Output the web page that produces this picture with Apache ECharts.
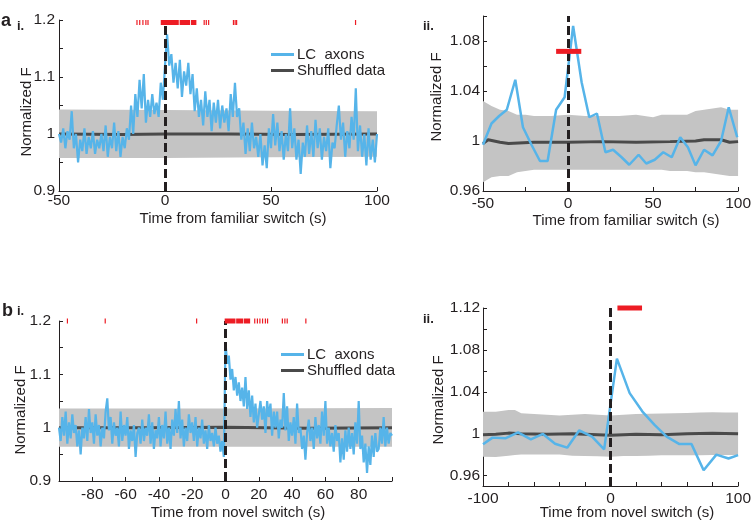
<!doctype html>
<html lang="en">
<head>
<meta charset="utf-8">
<title>LC axons at familiar / novel switch</title>
<script src="https://cdn.jsdelivr.net/npm/echarts@6/dist/echarts.min.js"></script>
<style>
  html, body { margin: 0; padding: 0; background: #fff; }
  #chart { width: 754px; height: 522px; }
</style>
</head>
<body>
<div id="chart"></div>
<script>
// ---- a.i  familiar switch, raw trace (1 s samples from -50 s)
const famStart = -50;
const famStep = 1;
const famTrace = [
  1.00, 0.985, 1.01, 0.975, 1.005, 0.99, 1.04, 0.975, 1.0, 0.95,
  0.99, 0.97, 1.01, 0.965, 0.995, 0.975, 1.005, 0.965, 0.99, 0.975,
  1.0, 0.97, 1.015, 0.96, 0.995, 0.975, 1.02, 0.97, 1.005, 0.96,
  0.995, 0.975, 1.01, 0.99, 1.05, 1.0, 1.07, 1.03, 1.095, 1.045,
  1.105, 1.02, 1.06, 1.03, 1.07, 1.035, 1.055, 1.03, 1.09, 1.06,
  1.12, 1.175, 1.12, 1.14, 1.09, 1.125, 1.08, 1.13, 1.065, 1.11,
  1.085, 1.125, 1.07, 1.105, 1.04, 1.08, 1.03, 1.06, 1.015, 1.075,
  1.03, 1.06, 1.005, 1.055, 1.02, 1.06, 1.01, 1.05, 1.02, 1.045,
  1.005, 1.07, 1.03, 1.09, 1.03, 1.045, 0.99, 1.02, 0.965, 1.01,
  0.97, 1.02, 0.975, 0.995, 0.96, 1.0, 0.945, 0.98, 0.94, 1.01,
  0.975, 1.035, 0.98, 1.02, 0.97, 1.005, 0.955, 1.0, 0.97, 1.045,
  0.975, 1.01, 0.955, 0.99, 0.93, 0.985, 0.96, 1.015, 0.965, 1.005,
  0.96, 1.025, 0.975, 1.01, 0.955, 0.995, 0.97, 1.01, 0.94, 0.985,
  0.975, 1.015, 1.05, 0.99, 1.02, 0.96, 1.005, 0.975, 1.03, 0.99,
  1.08, 0.97, 1.015, 0.96, 1.0, 0.945, 1.01, 0.955, 0.99, 0.95,
  1.0
];
const famBandT = [-50, 0, 50, 100];
const famBandLo = [0.958, 0.958, 0.959, 0.96];
const famBandHi = [1.043, 1.042, 1.041, 1.04];
const famShufT = [-50, -20, 0, 30, 60, 100];
const famShufV = [1.0, 0.999, 1.0, 1.0, 0.999, 1.0];
const famEvents = [
  [-13.5, -13.3], [-12.2, -12.0], [-10.7, -10.4], [-9.3, -9.1], [-8.3, -8.1],
  [-2.0, 6.5], [6.9, 11.8], [12.2, 14.8],
  [18.2, 18.4], [19.2, 19.4], [20.3, 20.6],
  [32.0, 32.3], [32.8, 33.1], [33.5, 33.8], [89.6, 89.9]
];

// ---- a.ii  familiar switch, binned
const famBinT = [-50, -45, -40.5, -36, -31, -26.5, -21.5, -16.5, -12, -7, -2, 3, 8, 12.5, 17, 22,
  26.5, 31.5, 36, 41.5, 46, 51, 56, 61, 66, 70.5, 75, 80, 85, 90, 94.5, 99.5];
const famBinV = [0.997, 1.014, 1.02, 1.025, 1.049, 1.011, 0.997, 0.984, 0.984, 1.025, 1.035, 1.092, 1.047, 1.019, 1.022, 0.991,
  0.993, 0.987, 0.981, 0.989, 0.982, 0.985, 0.991, 0.987, 1.003, 0.995, 0.9805, 0.993, 0.9885, 1.0, 1.027, 1.003];
const famBinBandT = [-50, -45, -40, -35, -30, -25, -20, -10, 0, 10, 20, 30, 40, 50, 55, 60, 70, 75, 80, 90, 95, 100];
const famBinBandHi = [1.032, 1.028, 1.025, 1.024, 1.021, 1.021, 1.02, 1.02, 1.021, 1.02, 1.02, 1.02, 1.021, 1.019, 1.021, 1.021, 1.021, 1.024, 1.025, 1.027, 1.025, 1.025];
const famBinBandLo = [0.967, 0.971, 0.972, 0.972, 0.975, 0.976, 0.977, 0.977, 0.977, 0.977, 0.977, 0.977, 0.977, 0.977, 0.977, 0.976, 0.976, 0.975, 0.975, 0.973, 0.972, 0.972];
const famBinShufT = [-50, -47, -40, -35, -20, 0, 20, 40, 60, 75, 80, 90, 95, 100];
const famBinShufV = [0.998, 1.001, 0.999, 0.998, 0.999, 0.999, 0.9995, 0.999, 0.9995, 1.0, 1.001, 1.001, 0.999, 0.9995];
const famSigBar = [[-7, 7.8, 1.0717]];

// ---- b.i  novel switch, raw trace (1 s samples from -100 s)
const novStart = -100;
const novStep = 1;
const novTrace = [
  1.00, 0.975, 1.02, 0.985, 1.03, 0.97, 1.01, 0.98, 1.025, 0.99,
  1.005, 0.965, 0.995, 0.95, 1.0, 0.98, 1.02, 0.975, 1.035, 0.99,
  1.01, 0.97, 1.025, 0.985, 1.005, 0.965, 1.0, 0.98, 1.03, 1.055,
  0.995, 1.02, 0.97, 1.01, 0.985, 1.0, 0.965, 1.03, 0.975, 1.005,
  0.985, 1.02, 0.96, 0.995, 0.975, 1.005, 0.945, 0.99, 1.0, 0.97,
  1.015, 0.975, 1.0, 0.985, 1.025, 0.97, 1.01, 0.96, 0.995, 0.98,
  1.02, 0.965, 1.005, 0.98, 1.03, 0.97, 1.0, 0.96, 1.015, 0.985,
  1.035, 0.99, 1.05, 0.98, 1.015, 0.965, 1.0, 0.975, 1.025, 0.99,
  1.01, 0.975, 1.02, 0.965, 1.0, 0.98, 1.015, 0.97, 0.995, 0.96,
  1.005, 0.975, 0.99, 0.965, 1.0, 0.97, 0.985, 0.955, 0.975, 0.945,
  1.16, 1.12, 1.135, 1.09, 1.11, 1.07, 1.095, 1.06, 1.085, 1.05,
  1.075, 1.04, 1.095, 1.035, 1.07, 1.02, 1.06, 1.01, 1.045, 1.0,
  1.0, 1.05, 1.015, 1.04, 0.99, 1.05, 1.02, 1.045, 0.985, 1.03,
  1.0, 1.03, 0.98, 1.015, 1.0, 1.065, 0.995, 1.04, 0.975, 1.01,
  0.985, 1.02, 0.97, 1.045, 0.99, 1.0, 0.96, 0.985, 0.94, 0.99,
  1.015, 0.975, 1.0, 0.96, 1.02, 0.98, 1.005, 0.97, 1.03, 0.985,
  1.05, 0.97, 1.0, 0.965, 0.99, 0.955, 1.005, 0.975, 0.99, 0.935,
  0.98, 0.94, 0.995, 0.955, 1.0, 0.96, 0.99, 0.95, 1.01, 0.97,
  1.05, 0.96, 0.985, 0.935, 0.97, 0.915, 0.965, 0.93, 0.985, 0.945,
  0.99, 0.955, 0.96, 1.0, 0.97, 1.02, 0.965, 1.0, 0.97, 0.99,
  0.985
];
const novBandT = [-100, 0, 100];
const novBandLo = [0.964, 0.964, 0.964];
const novBandHi = [1.036, 1.036, 1.037];
const novShufT = [-100, -50, 0, 50, 100];
const novShufV = [1.0, 1.0, 1.001, 0.999, 1.0];
const novEvents = [
  [-95.3, -95.1], [-72.6, -72.0], [-17.7, -17.5],
  [-0.5, 6.0], [6.4, 10.5], [10.9, 14.8],
  [17.2, 17.4], [18.8, 19.0], [20.3, 20.5], [21.9, 22.1], [23.6, 23.8], [24.9, 25.1],
  [33.8, 34.0], [35.3, 35.5], [36.7, 36.9], [47.9, 48.1]
];

// ---- b.ii  novel switch, binned
const novBinT = [-100, -92.5, -82.5, -72.5, -62.5, -53, -43.5, -34, -24.5, -14.5, -5, 5, 15, 25, 34.5, 44, 54, 63.5, 73, 83, 92.5, 100];
const novBinV = [0.9898, 0.9962, 0.9955, 1.0013, 0.9946, 0.9997, 0.9904, 0.9866, 1.0032, 0.9971, 0.985, 1.0717, 1.0387, 1.0211, 1.0083, 0.9971, 0.99, 0.99, 0.965, 0.98, 0.9763, 0.9795];
const novBinBandT = [-100, -90, -80, -75, -70, -60, -50, -40, -30, -20, -10, 0, 10, 20, 30, 40, 50, 60, 70, 80, 90, 100];
const novBinBandHi = [1.021, 1.021, 1.0227, 1.0227, 1.0195, 1.0187, 1.018, 1.0173, 1.018, 1.0187, 1.018, 1.0173, 1.018, 1.0187, 1.019, 1.0192, 1.0195, 1.0198, 1.0202, 1.0205, 1.0202, 1.0202];
const novBinBandLo = [0.978, 0.9777, 0.979, 0.9795, 0.98, 0.98, 0.9802, 0.98, 0.979, 0.9787, 0.9783, 0.978, 0.9787, 0.9787, 0.979, 0.9793, 0.9793, 0.9793, 0.9793, 0.9795, 0.9795, 0.9795];
const novBinShufT = [-100, -90, -80, -70, -50, -30, 0, 20, 40, 60, 80, 100];
const novBinShufV = [0.999, 0.9995, 1.0005, 1.0, 0.9995, 1.0, 0.9985, 0.9995, 0.999, 1.0, 1.0003, 1.0];
const novSigBar = [[5.4, 24.7, 1.12]];

// ---- axis ticks / labels
const yTicksRaw = [0.9, 0.95, 1, 1.05, 1.1, 1.15, 1.2];
const yLabelsRaw = [0.9, 1, 1.1, 1.2];
const famXTicks = [-50, 0, 50, 100];
const famXLabels = [-50, 0, 50, 100];
const famBinXTicks = [-50, -25, 0, 25, 50, 75, 100];
const famBinYTicks = [0.96, 0.98, 1, 1.02, 1.04, 1.06, 1.08, 1.1];
const famBinYLabels = [0.96, 1, 1.04, 1.08];
const novXTicks = [-100, -80, -60, -40, -20, 0, 20, 40, 60, 80, 100];
const novXLabels = [-80, -60, -40, -20, 0, 20, 40, 60, 80];
const novBinXLabels = [-100, 0, 100];
const novBinYTicks = [0.96, 0.98, 1, 1.02, 1.04, 1.06, 1.08, 1.1, 1.12];
const novBinYLabels = [0.96, 1, 1.04, 1.08, 1.12];

const INK = '#231f20';
const BLUE = '#56b4e9';
const SHUF = '#4a4a4a';
const BAND = '#c4c4c4';
const RED = '#ed1c24';
const FONT = '"Liberation Sans", Arial, sans-serif';

function pairs(t, v) { return t.map((x, i) => [x, v[i]]); }
function sampled(start, step, vals) { return vals.map((v, i) => [start + i * step, v]); }

function axis(grid, min, max, ticks, labels, margin) {
  return {
    type: 'value', gridIndex: grid, min: min, max: max,
    axisLine: { onZero: false, lineStyle: { color: INK, width: 1 } },
    axisTick: { inside: true, length: 4, customValues: ticks, lineStyle: { color: INK, width: 1 } },
    axisLabel: { customValues: labels, margin: margin, color: INK, fontSize: 15.5, fontFamily: FONT },
    splitLine: { show: false }
  };
}

function band(grid, t, lo, hi) {
  return {
    type: 'custom', xAxisIndex: grid, yAxisIndex: grid, z: 1, silent: true,
    data: t.map((x, i) => [x, lo[i], hi[i]]),
    encode: { x: 0, y: [1, 2] },
    renderItem: function (params, api) {
      if (params.dataIndex !== 0) return null;
      const top = t.map((x, i) => api.coord([x, hi[i]]));
      const bottom = t.map((x, i) => api.coord([x, lo[i]])).reverse();
      return { type: 'polygon', shape: { points: top.concat(bottom) }, style: { fill: BAND } };
    }
  };
}

function bars(grid, items, dy, h, minW) {
  return {
    type: 'custom', xAxisIndex: grid, yAxisIndex: grid, z: 6, silent: true,
    data: items,
    encode: { x: [0, 1], y: 2 },
    renderItem: function (params, api) {
      const a = api.coord([api.value(0), api.value(2)]);
      const b = api.coord([api.value(1), api.value(2)]);
      return {
        type: 'rect',
        shape: { x: a[0], y: a[1] + dy, width: Math.max(b[0] - a[0], minW), height: h },
        style: { fill: RED }
      };
    }
  };
}

const zeroLine = {
  silent: true, symbol: ['none', 'none'], label: { show: false },
  lineStyle: { color: INK, width: 3, type: [9, 4] },
  data: [{ xAxis: 0 }]
};

function trace(grid, name, data, width) {
  return {
    name: name, type: 'line', xAxisIndex: grid, yAxisIndex: grid, data: data,
    showSymbol: false, symbol: 'none', color: BLUE, z: 3,
    lineStyle: { color: BLUE, width: width },
    markLine: zeroLine
  };
}

function shuffled(grid, name, data) {
  return {
    name: name, type: 'line', xAxisIndex: grid, yAxisIndex: grid, data: data,
    showSymbol: false, symbol: 'none', color: SHUF, z: 2,
    lineStyle: { color: SHUF, width: 3 }
  };
}

function legendAt(left, top) {
  return {
    orient: 'vertical', left: left, top: top, icon: 'rect',
    itemWidth: 23, itemHeight: 3, itemGap: 1, selectedMode: false,
    data: ['LC  axons', 'Shuffled data'],
    textStyle: { fontSize: 15, color: INK, fontFamily: FONT, padding: [0, 0, 0, -2] }
  };
}

function label(text, x, y, size, bold) {
  return {
    type: 'text', x: x, y: y,
    style: { text: text, fill: INK, font: (bold ? 'bold ' : '') + size + 'px ' + FONT, verticalAlign: 'alphabetic' }
  };
}

function title(text, x, y, vertical) {
  return {
    type: 'text', x: x, y: y, rotation: vertical ? Math.PI / 2 : 0,
    style: { text: text, fill: INK, font: '15px ' + FONT, align: 'center', verticalAlign: 'middle' }
  };
}

const chart = echarts.init(document.getElementById('chart'));

chart.setOption({
  animation: false,
  backgroundColor: '#fff',
  grid: [
    { left: 59, top: 20, width: 318, height: 171 },
    { left: 483, top: 16, width: 263, height: 175 },
    { left: 59, top: 321, width: 333, height: 160 },
    { left: 483, top: 308, width: 259, height: 178 }
  ],
  xAxis: [
    axis(0, -50, 100, famXTicks, famXLabels, 2),
    axis(1, -50, 100, famBinXTicks, famXLabels, 5),
    axis(2, -100, 100, novXTicks, novXLabels, 6),
    axis(3, -100, 100, novXTicks, novBinXLabels, 5)
  ],
  yAxis: [
    axis(0, 0.9, 1.2, yTicksRaw, yLabelsRaw, 4),
    axis(1, 0.96, 1.1, famBinYTicks, famBinYLabels, 3),
    axis(2, 0.9, 1.2, yTicksRaw, yLabelsRaw, 8),
    axis(3, 0.95, 1.12, novBinYTicks, novBinYLabels, 3)
  ],
  legend: [legendAt(266, 42), legendAt(276, 342)],
  graphic: [
    label('a', 1, 12, 18, true),
    label('i.', 17, 20, 13, true),
    label('ii.', 423, 20, 13, true),
    label('b', 2, 302, 18, true),
    label('i.', 17, 305, 13, true),
    label('ii.', 423, 313, 13, true),
    title('Time from familiar switch (s)', 233, 219, false),
    title('Time from familiar switch (s)', 626, 221, false),
    title('Time from novel switch (s)', 238, 513, false),
    title('Time from novel switch (s)', 627, 513, false),
    title('Normalized F', 27, 112, true),
    title('Normalized F', 437, 97, true),
    title('Normalized F', 21, 410, true),
    title('Normalized F', 439, 400, true)
  ],
  series: [
    band(0, famBandT, famBandLo, famBandHi),
    shuffled(0, 'Shuffled data', pairs(famShufT, famShufV)),
    trace(0, 'LC  axons', sampled(famStart, famStep, famTrace), 2.2),
    bars(0, famEvents.map(e => [e[0], e[1], 1.2]), 0, 5, 1.2),

    band(1, famBinBandT, famBinBandLo, famBinBandHi),
    shuffled(1, 'shuffled-binned-fam', pairs(famBinShufT, famBinShufV)),
    trace(1, 'lc-binned-fam', pairs(famBinT, famBinV), 2.5),
    bars(1, famSigBar, -2.5, 5, 1),

    band(2, novBandT, novBandLo, novBandHi),
    shuffled(2, 'Shuffled data', pairs(novShufT, novShufV)),
    trace(2, 'LC  axons', sampled(novStart, novStep, novTrace), 2.2),
    bars(2, novEvents.map(e => [e[0], e[1], 1.2]), -2.5, 5, 1.2),

    band(3, novBinBandT, novBinBandLo, novBinBandHi),
    shuffled(3, 'shuffled-binned-nov', pairs(novBinShufT, novBinShufV)),
    trace(3, 'lc-binned-nov', pairs(novBinT, novBinV), 2.5),
    bars(3, novSigBar, -2.5, 5, 1)
  ]
});
</script>
</body>
</html>
